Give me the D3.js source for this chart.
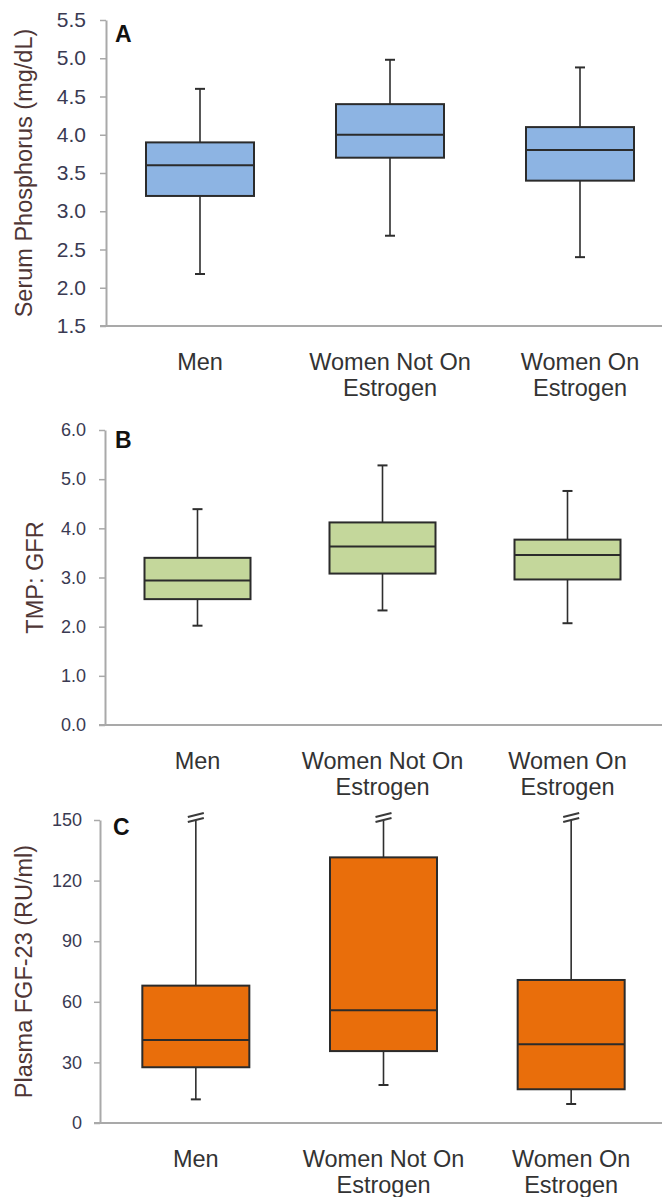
<!DOCTYPE html>
<html>
<head>
<meta charset="utf-8">
<script src="https://cdn.jsdelivr.net/npm/d3@7"></script>
<style>
  html, body { margin: 0; padding: 0; background: #fff; }
  svg { display: block; font-family: "Liberation Sans", Arial, sans-serif; }
</style>
</head>
<body>
<div id="chart"></div>
<script>
(function () {
  "use strict";

  var categories = ["Men", "Women Not On Estrogen", "Women On Estrogen"];
  var categoryLines = [["Men"], ["Women Not On", "Estrogen"], ["Women On", "Estrogen"]];

  // A: serum phosphorus
  var phosLow = [2.18, 2.68, 2.4];
  var phosQ1 = [3.2, 3.7, 3.4];
  var phosMed = [3.6, 4.0, 3.8];
  var phosQ3 = [3.9, 4.4, 4.1];
  var phosHigh = [4.6, 4.98, 4.88];
  var phosTicks = [1.5, 2.0, 2.5, 3.0, 3.5, 4.0, 4.5, 5.0, 5.5];

  // B: TMP:GFR
  var tmpLow = [2.02, 2.33, 2.07];
  var tmpQ1 = [2.56, 3.08, 2.96];
  var tmpMed = [2.94, 3.63, 3.46];
  var tmpQ3 = [3.40, 4.12, 3.77];
  var tmpHigh = [4.39, 5.28, 4.76];
  var tmpTicks = [0, 1, 2, 3, 4, 5, 6];

  // C: plasma FGF-23 (upper whiskers cut at 150)
  var fgfLow = [11.7, 18.8, 9.4];
  var fgfQ1 = [27.6, 35.6, 16.7];
  var fgfMed = [41.1, 55.8, 39.0];
  var fgfQ3 = [68.0, 131.5, 70.8];
  var fgfHigh = [150, 150, 150];
  var fgfBroken = [true, true, true];
  var fgfTicks = [0, 30, 60, 90, 120, 150];

  var W = 662, H = 1197;

  var svg = d3.select("#chart").append("svg")
    .attr("width", W)
    .attr("height", H)
    .attr("viewBox", [0, 0, W, H]);

  svg.append("rect").attr("width", W).attr("height", H).attr("fill", "#fff");

  var panels = [
    {
      letter: "A", title: "Serum Phosphorus (mg/dL)",
      low: phosLow, q1: phosQ1, med: phosMed, q3: phosQ3, high: phosHigh,
      broken: [false, false, false],
      ticks: phosTicks, fmt: d3.format(".1f"), tickFont: 21,
      fill: "#8db4e3",
      top: 20, bottom: 326, left: 106, xRange: [105, 675], boxW: 108,
      titleX: 32, letterX: 115, letterY: 42, tickPad: 14
    },
    {
      letter: "B", title: "TMP: GFR",
      low: tmpLow, q1: tmpQ1, med: tmpMed, q3: tmpQ3, high: tmpHigh,
      broken: [false, false, false],
      ticks: tmpTicks, fmt: d3.format(".1f"), tickFont: 18,
      fill: "#c4d79b",
      top: 430, bottom: 725, left: 105, xRange: [105, 660], boxW: 106,
      titleX: 43, letterX: 115, letterY: 448, tickPad: 13
    },
    {
      letter: "C", title: "Plasma FGF-23 (RU/ml)",
      low: fgfLow, q1: fgfQ1, med: fgfMed, q3: fgfQ3, high: fgfHigh,
      broken: fgfBroken,
      ticks: fgfTicks, fmt: d3.format("d"), tickFont: 18,
      fill: "#e96e0b",
      top: 820, bottom: 1123, left: 100, xRange: [102, 665], boxW: 107,
      titleX: 32, letterX: 113, letterY: 835, tickPad: 12
    }
  ];

  panels.forEach(drawPanel);

  function drawPanel(p) {
    var g = svg.append("g");
    var ticks = p.ticks;

    var y = d3.scaleLinear()
      .domain([ticks[0], ticks[ticks.length - 1]])
      .range([p.bottom, p.top]);

    var x = d3.scaleBand()
      .domain(categories)
      .range(p.xRange)
      .padding(0);

    // y axis
    var yAxis = g.append("g")
      .attr("transform", "translate(" + p.left + ",0)")
      .call(d3.axisLeft(y)
        .tickValues(ticks)
        .tickFormat(p.fmt)
        .tickSize(6)
        .tickSizeOuter(0)
        .tickPadding(p.tickPad));
    yAxis.select(".domain").attr("stroke", "#a9a9a9").attr("stroke-width", 2);
    yAxis.selectAll(".tick line").attr("stroke", "#a9a9a9").attr("stroke-width", 1.5);
    yAxis.selectAll(".tick text")
      .attr("fill", "#3a3a52")
      .attr("font-size", p.tickFont)
      .attr("font-family", "'Liberation Sans', Arial, sans-serif");

    // x axis baseline
    g.append("line")
      .attr("x1", p.left - 6)
      .attr("x2", W)
      .attr("y1", y(ticks[0]))
      .attr("y2", y(ticks[0]))
      .attr("stroke", "#a9a9a9")
      .attr("stroke-width", 2);

    // category labels
    var lab = g.append("g").selectAll("text")
      .data(categories)
      .join("text")
      .attr("x", function (d) { return x(d) + x.bandwidth() / 2; })
      .attr("y", y(ticks[0]) + 44)
      .attr("text-anchor", "middle")
      .attr("font-size", 23.5)
      .attr("fill", "#333");
    lab.selectAll("tspan")
      .data(function (d, i) { return categoryLines[i]; })
      .join("tspan")
      .attr("x", function () { var c = d3.select(this.parentNode).datum(); return x(c) + x.bandwidth() / 2; })
      .attr("dy", function (d, i) { return i === 0 ? 0 : 26; })
      .text(function (d) { return d; });

    // axis title
    g.append("text")
      .attr("transform", "translate(" + p.titleX + "," + ((p.top + p.bottom) / 2) + ") rotate(-90)")
      .attr("text-anchor", "middle")
      .attr("font-size", 23.5)
      .attr("fill", "#4e3636")
      .text(p.title);

    // panel letter
    g.append("text")
      .attr("x", p.letterX)
      .attr("y", p.letterY)
      .attr("font-size", 23)
      .attr("font-weight", "bold")
      .attr("fill", "#111")
      .text(p.letter);

    // box plots
    var boxes = g.append("g").selectAll("g")
      .data(categories)
      .join("g");

    function cx(d) { return x(d) + x.bandwidth() / 2; }
    function idx(d) { return categories.indexOf(d); }

    // whiskers
    boxes.append("line")
      .attr("x1", cx).attr("x2", cx)
      .attr("y1", function (d) { return y(p.low[idx(d)]); })
      .attr("y2", function (d) { return y(p.high[idx(d)]); })
      .attr("stroke", "#2e2e2e")
      .attr("stroke-width", 1.6);

    // lower caps
    boxes.append("line")
      .attr("x1", function (d) { return cx(d) - 5; })
      .attr("x2", function (d) { return cx(d) + 5; })
      .attr("y1", function (d) { return y(p.low[idx(d)]); })
      .attr("y2", function (d) { return y(p.low[idx(d)]); })
      .attr("stroke", "#2e2e2e")
      .attr("stroke-width", 2);

    // upper caps or break marks
    boxes.filter(function (d) { return !p.broken[idx(d)]; })
      .append("line")
      .attr("x1", function (d) { return cx(d) - 5; })
      .attr("x2", function (d) { return cx(d) + 5; })
      .attr("y1", function (d) { return y(p.high[idx(d)]); })
      .attr("y2", function (d) { return y(p.high[idx(d)]); })
      .attr("stroke", "#2e2e2e")
      .attr("stroke-width", 2);

    var br = boxes.filter(function (d) { return p.broken[idx(d)]; });
    [0, -5].forEach(function (off) {
      br.append("line")
        .attr("x1", function (d) { return cx(d) - 8; })
        .attr("x2", function (d) { return cx(d) + 8; })
        .attr("y1", function (d) { return y(p.high[idx(d)]) + off + 2; })
        .attr("y2", function (d) { return y(p.high[idx(d)]) + off - 2; })
        .attr("stroke", "#3a3a3a")
        .attr("stroke-width", 2);
    });

    // box
    boxes.append("rect")
      .attr("x", function (d) { return cx(d) - p.boxW / 2; })
      .attr("width", p.boxW)
      .attr("y", function (d) { return y(p.q3[idx(d)]); })
      .attr("height", function (d) { return y(p.q1[idx(d)]) - y(p.q3[idx(d)]); })
      .attr("fill", p.fill)
      .attr("stroke", "#2b2b2b")
      .attr("stroke-width", 2);

    // median
    boxes.append("line")
      .attr("x1", function (d) { return cx(d) - p.boxW / 2; })
      .attr("x2", function (d) { return cx(d) + p.boxW / 2; })
      .attr("y1", function (d) { return y(p.med[idx(d)]); })
      .attr("y2", function (d) { return y(p.med[idx(d)]); })
      .attr("stroke", "#2b2b2b")
      .attr("stroke-width", 2);
  }
})();
</script>
</body>
</html>
